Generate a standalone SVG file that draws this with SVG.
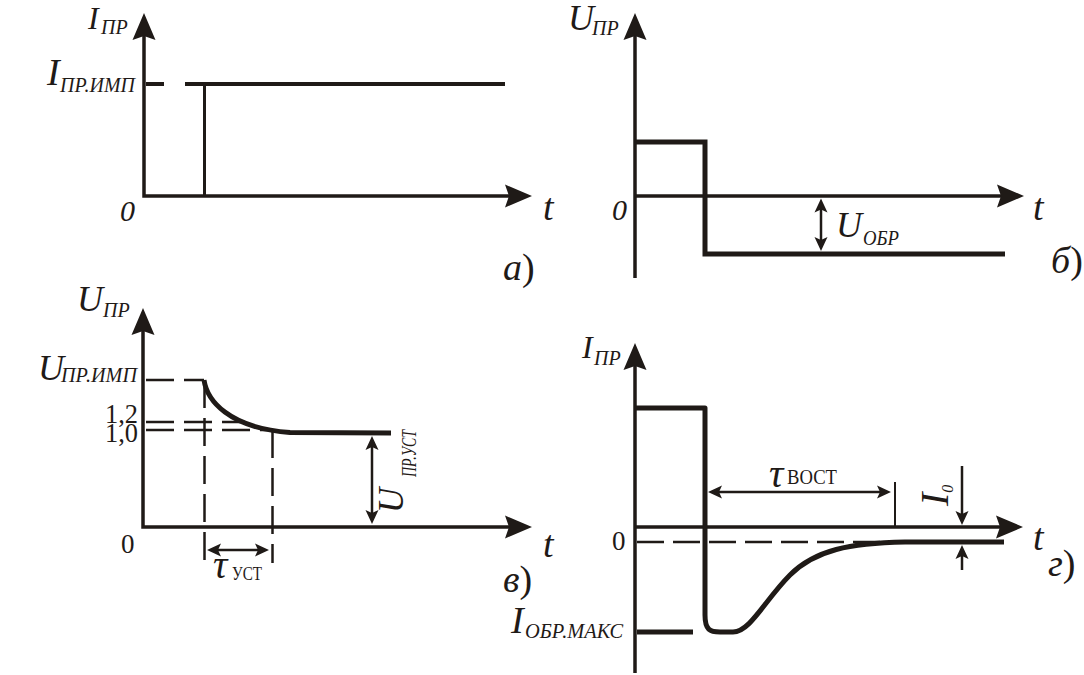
<svg xmlns="http://www.w3.org/2000/svg" width="1084" height="675" viewBox="0 0 1084 675">
<defs>
<style>
.ax{fill:none;stroke:#1f1a17;stroke-width:3.5;stroke-linejoin:miter}
.thk{fill:none;stroke:#1f1a17;stroke-width:5;stroke-linejoin:round}
.dash{fill:none;stroke:#1f1a17;stroke-width:2.5;stroke-dasharray:28 10}
.dim{fill:none;stroke:#1f1a17;stroke-width:2.5}
text{font-family:'Liberation Serif','DejaVu Serif',serif;fill:#1f1a17}
.it{font-style:italic}
.sub{font-size:20px;font-style:italic}
</style>
<marker id="ah" viewBox="-28 -12 29 24" refX="-20" refY="0" markerWidth="29" markerHeight="24" markerUnits="userSpaceOnUse" orient="auto-start-reverse">
<path d="M0,0 L-27,-11.5 L-23,0 L-27,11.5 Z" fill="#1f1a17"/>
</marker>
<marker id="sa" viewBox="-15 -7 16 14" refX="-9" refY="0" markerWidth="16" markerHeight="14" markerUnits="userSpaceOnUse" orient="auto-start-reverse">
<path d="M0,0 L-14,-6.5 L-11,0 L-14,6.5 Z" fill="#1f1a17"/>
</marker>
</defs>
<rect width="1084" height="675" fill="#ffffff"/>

<g id="connectors">
<!-- panel a -->
<path class="ax" d="M144,33 V196 H512" marker-start="url(#ah)" marker-end="url(#ah)"/>
<path d="M146,84 H164 M185,84 H505" fill="none" stroke="#1f1a17" stroke-width="4"/>
<path d="M204.5,84 V196" fill="none" stroke="#1f1a17" stroke-width="3"/>
<!-- panel b -->
<path class="ax" d="M635,278 V33" marker-end="url(#ah)"/>
<path class="ax" d="M635,196 H1004" marker-end="url(#ah)"/>
<path class="thk" style="stroke-linejoin:miter" d="M635,142 H705 V254 H1005"/>
<path class="dim" d="M821,207.5 V242" marker-start="url(#sa)" marker-end="url(#sa)"/>
<!-- panel v -->
<path class="ax" d="M143,328 V527 H512" marker-start="url(#ah)" marker-end="url(#ah)"/>
<path class="dash" d="M146,380 H204"/>
<path class="dash" d="M146,422 H245"/>
<path class="dash" d="M146,430 H268"/>
<path class="dash" d="M204.5,380 V563"/>
<path class="dash" d="M272.5,430 V563"/>
<path class="thk" d="M204,380 C207,400 228,428 290,432.5 L391,433"/>
<path class="dim" d="M372,445 V515" marker-start="url(#sa)" marker-end="url(#sa)"/>
<path class="dim" d="M216,550 H260" marker-start="url(#sa)" marker-end="url(#sa)"/>
<!-- panel g -->
<path class="ax" d="M635,673 V363" marker-end="url(#ah)"/>
<path class="ax" d="M635,527 H1003" marker-end="url(#ah)"/>
<path class="thk" d="M635,408 H705 V615 C705,630 710,632 720,632 L733,632 C750,632 765,600 790,575 S850,543 905,542 L1004,542"/>
<path class="thk" style="stroke-linecap:butt" d="M637,632 H693"/>
<path class="dash" style="stroke-dasharray:27 9" d="M637,542 H882"/>
<path class="dim" d="M717,492 H882" marker-start="url(#sa)" marker-end="url(#sa)"/>
<path d="M895,482 V527" fill="none" stroke="#1f1a17" stroke-width="2"/>
<path class="dim" d="M962,466 V516" marker-end="url(#sa)"/>
<path class="dim" d="M962,570 V554" marker-end="url(#sa)"/>
</g>

<g id="panel-a-labels">
<text class="it" x="88" y="29" font-size="32">I<tspan class="sub" x="101" y="34">ПР</tspan></text>
<text class="it" x="47" y="85" font-size="38">I<tspan class="sub" x="60" y="92" textLength="75" lengthAdjust="spacingAndGlyphs">ПР.ИМП</tspan></text>
<text class="it" x="120" y="221" font-size="30">0</text>
<text class="it" x="543" y="220" font-size="38">t</text>
<text x="503" y="280" font-size="38"><tspan class="it">а</tspan>)</text>
</g>

<g id="panel-b-labels">
<text class="it" x="568" y="30" font-size="36">U<tspan class="sub" x="592" y="35">ПР</tspan></text>
<text class="it" x="612" y="220" font-size="30">0</text>
<text class="it" x="1033" y="220" font-size="38">t</text>
<text class="it" x="836" y="237" font-size="36">U<tspan class="sub" x="863" y="245" textLength="36" lengthAdjust="spacingAndGlyphs">ОБР</tspan></text>
<text x="1051" y="273" font-size="38"><tspan class="it">б</tspan>)</text>
</g>

<g id="panel-v-labels">
<text class="it" x="77" y="311" font-size="36">U<tspan class="sub" x="103" y="317">ПР</tspan></text>
<text class="it" x="38" y="380" font-size="36">U<tspan class="sub" x="61" y="382" textLength="76" lengthAdjust="spacingAndGlyphs">ПР.ИМП</tspan></text>
<text x="105" y="423" font-size="27" textLength="33" lengthAdjust="spacingAndGlyphs">1,2</text>
<text x="105" y="442" font-size="27" textLength="33" lengthAdjust="spacingAndGlyphs">1,0</text>
<text x="121" y="553" font-size="27">0</text>
<text class="it" x="543" y="557" font-size="38">t</text>
<text x="503" y="592" font-size="38"><tspan class="it">в</tspan>)</text>
<text class="it" x="213" y="578" font-size="40">τ<tspan font-style="normal" font-size="19" x="232" y="580" textLength="30" lengthAdjust="spacingAndGlyphs">УСТ</tspan></text>
<text class="it" transform="translate(403,513) rotate(-90)" x="0" y="0" font-size="35">U<tspan class="sub" font-size="19" x="36" y="13" textLength="47" lengthAdjust="spacingAndGlyphs">ПР.УСТ</tspan></text>
</g>

<g id="panel-g-labels">
<text class="it" x="582" y="358" font-size="32">I<tspan class="sub" x="594" y="365">ПР</tspan></text>
<text x="612" y="550" font-size="27">0</text>
<text class="it" x="1033" y="550" font-size="38">t</text>
<text x="1048" y="576" font-size="38"><tspan class="it">г</tspan>)</text>
<text class="it" x="511" y="633" font-size="38">I<tspan class="sub" x="525" y="638" textLength="98" lengthAdjust="spacingAndGlyphs">ОБР.МАКС</tspan></text>
<text class="it" x="769" y="487" font-size="40">τ<tspan font-style="normal" font-size="20" x="787" y="484" textLength="50" lengthAdjust="spacingAndGlyphs">ВОСТ</tspan></text>
<text class="it" transform="translate(948,506) rotate(-90)" x="0" y="0" font-size="40">I<tspan font-size="16" dy="5">0</tspan></text>
</g>
</svg>
